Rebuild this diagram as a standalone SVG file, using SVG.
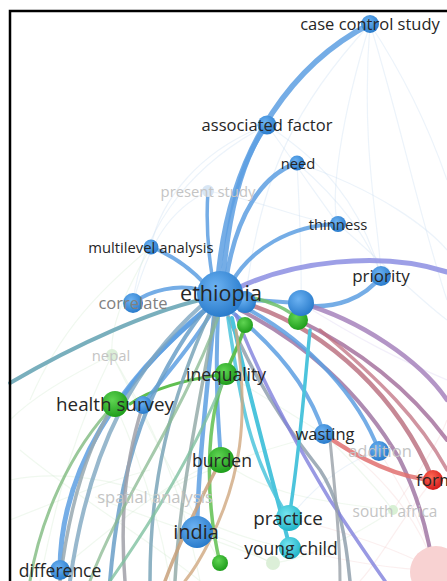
<svg xmlns="http://www.w3.org/2000/svg" width="447" height="581" viewBox="0 0 447 581">
<defs>
<radialGradient id="gb" cx="40%" cy="35%" r="65%"><stop offset="0" stop-color="#6cb2f2"/><stop offset="1" stop-color="#2a7ccc"/></radialGradient>
<radialGradient id="gg" cx="40%" cy="35%" r="65%"><stop offset="0" stop-color="#5fd452"/><stop offset="1" stop-color="#1f9e1c"/></radialGradient>
<radialGradient id="gc" cx="40%" cy="35%" r="65%"><stop offset="0" stop-color="#74e4f0"/><stop offset="1" stop-color="#22b4c8"/></radialGradient>
<radialGradient id="gr" cx="40%" cy="35%" r="65%"><stop offset="0" stop-color="#ff6a55"/><stop offset="1" stop-color="#d41c1c"/></radialGradient>
<style>
text{font-family:"Open Sans","Noto Sans","Liberation Sans",sans-serif;fill:#262626;text-anchor:middle}
.f{fill:#c4c4c4}
.m{fill:#808080}
.e{fill:none;stroke-linecap:round}
.bl{stroke:#5d9fe2;stroke-opacity:.85}
.bg{fill:none;stroke-width:1.2;stroke-opacity:.35}
</style>
</defs>
<rect width="447" height="581" fill="#fff"/>
<g id="background-links" class="bg">
<path d="M370,24 C400,120 420,220 447,300" stroke="#c9dcf2"/>
<path d="M370,24 C340,120 330,200 338,224" stroke="#c9dcf2"/>
<path d="M370,24 C360,150 380,230 381,276" stroke="#c9dcf2"/>
<path d="M370,24 C300,100 260,170 245,303" stroke="#c9dcf2"/>
<path d="M370,24 C420,100 440,160 447,180" stroke="#c9dcf2"/>
<path d="M267,125 C320,160 360,200 381,276" stroke="#c9dcf2"/>
<path d="M267,125 C200,150 160,200 151,247" stroke="#c9dcf2"/>
<path d="M267,125 C300,170 320,200 338,224" stroke="#c9dcf2"/>
<path d="M267,125 C180,170 140,240 133,303" stroke="#c9dcf2"/>
<path d="M297,163 C340,200 370,240 381,276" stroke="#c9dcf2"/>
<path d="M297,163 C380,190 430,230 447,250" stroke="#c9dcf2"/>
<path d="M297,163 C300,220 302,260 301,303" stroke="#c9dcf2"/>
<path d="M208,191 C170,210 150,240 133,303" stroke="#c9dcf2"/>
<path d="M208,191 C260,200 300,220 338,224" stroke="#c9dcf2"/>
<path d="M151,247 C100,290 60,330 30,400" stroke="#d5ecd0"/>
<path d="M151,247 C120,300 110,330 112,355" stroke="#d5ecd0"/>
<path d="M112,355 C80,420 60,480 40,581" stroke="#d5ecd0"/>
<path d="M112,355 C150,420 180,480 200,581" stroke="#d5ecd0"/>
<path d="M112,355 C130,390 160,450 220,563" stroke="#d5ecd0"/>
<path d="M112,355 C60,380 30,400 10,420" stroke="#d5ecd0"/>
<path d="M95,497 C150,520 220,540 273,563" stroke="#d5ecd0"/>
<path d="M20,450 C80,500 150,540 200,581" stroke="#d5ecd0"/>
<path d="M10,480 C60,470 120,480 155,497" stroke="#d5ecd0"/>
<path d="M155,497 C200,470 260,450 324,434" stroke="#d5ecd0"/>
<path d="M155,497 C200,520 240,540 290,548" stroke="#d5ecd0"/>
<path d="M393,510 C350,540 300,560 273,563" stroke="#d5ecd0"/>
<path d="M393,510 C370,480 350,460 324,434" stroke="#d5ecd0"/>
<path d="M393,510 C420,470 440,440 447,420" stroke="#f4d0d0"/>
<path d="M433,480 C400,520 380,560 360,581" stroke="#f4d0d0"/>
<path d="M379,451 C410,500 430,540 435,570" stroke="#f4d0d0"/>
<path d="M324,434 C380,470 420,520 435,570" stroke="#f4d0d0"/>
<path d="M289,518 C340,530 400,550 435,570" stroke="#f4d0d0"/>
<path d="M290,548 C340,560 390,570 435,570" stroke="#f4d0d0"/>
<path d="M301,303 C360,340 400,360 447,380" stroke="#d9d0f0"/>
<path d="M338,224 C380,260 420,300 447,320" stroke="#c9dcf2"/>
<path d="M60,570 C120,520 170,480 221,460" stroke="#d5ecd0"/>
<path d="M10,520 C60,500 110,480 150,470" stroke="#d5ecd0"/>
<path d="M115,404 C140,460 160,520 170,581" stroke="#d5ecd0"/>
<path d="M226,374 C270,400 300,420 324,434" stroke="#d5ecd0"/>
<path d="M221,460 C260,490 300,500 393,510" stroke="#d5ecd0"/>
<path d="M197,532 C240,540 260,560 273,563" stroke="#d5ecd0"/>
<path d="M289,518 C320,480 350,460 379,451" stroke="#c9dcf2"/>
</g>
<g id="links" class="e">
<path class="e bl" d="M370,24 C300,60 230,140 218,280" stroke-width="5.5"/>
<path class="e bl" d="M267,125 C240,160 228,220 223,280" stroke-width="5"/>
<path class="e bl" d="M297,163 C262,175 236,215 226,280" stroke-width="4.5"/>
<path class="e bl" d="M208,191 C206,220 208,250 212,275" stroke-width="3.5"/>
<path class="e bl" d="M338,224 C290,225 250,250 232,282" stroke-width="4"/>
<path class="e bl" d="M151,247 C172,255 190,268 205,284" stroke-width="4"/>
<path class="e bl" d="M133,303 C150,290 178,284 200,290" stroke-width="4"/>
<path class="e" d="M10,383 C80,342 150,312 200,300" stroke="#6aa6b6" stroke-width="4" stroke-opacity=".9"/>
<path class="e" d="M236,289 C290,262 380,250 447,272" stroke="#8c8ee2" stroke-width="5" stroke-opacity=".85"/>
<path class="e bl" d="M381,276 C365,298 335,310 301,305" stroke-width="4.5"/>
<path class="e bl" d="M240,300 C260,300 280,302 301,303" stroke-width="4"/>
<path class="e" d="M242,296 C270,300 290,310 298,320" stroke="#6cbf6a" stroke-width="3.5" stroke-opacity=".85"/>
<path class="e" d="M301,303 C360,320 420,360 447,400" stroke="#a07ab8" stroke-width="4.5" stroke-opacity=".8"/>
<path class="e" d="M298,320 C360,350 410,390 447,440" stroke="#a06a98" stroke-width="4" stroke-opacity=".8"/>
<path class="e" d="M240,310 C300,340 360,390 400,460 C420,500 430,540 435,581" stroke="#9a6e9e" stroke-width="4" stroke-opacity=".8"/>
<path class="e" d="M245,303 C330,330 400,400 433,480" stroke="#b86a7a" stroke-width="4.5" stroke-opacity=".8"/>
<path class="e bl" d="M240,305 C310,340 360,400 379,451" stroke-width="4"/>
<path class="e bl" d="M232,312 C280,350 310,390 324,434" stroke-width="4"/>
<path class="e" d="M324,434 C360,460 400,478 433,480" stroke="#e07070" stroke-width="4.5" stroke-opacity=".85"/>
<path class="e" d="M228,316 C250,370 280,420 320,470 C340,500 346,540 350,581" stroke="#8a9aa8" stroke-width="3.5" stroke-opacity=".8"/>
<path class="e" d="M236,315 C260,380 300,450 330,500 C350,530 370,560 385,581" stroke="#8080dc" stroke-width="3.5" stroke-opacity=".8"/>
<path class="e" d="M232,318 C245,380 270,470 290,548" stroke="#4cc4dc" stroke-width="4"/>
<path class="e" d="M228,318 C240,400 250,460 289,518" stroke="#4cc4dc" stroke-width="3.5" stroke-opacity=".85"/>
<path class="e" d="M310,330 C305,380 300,450 289,518" stroke="#4cc4dc" stroke-width="3.5"/>
<path class="e bl" d="M218,316 C215,380 218,420 221,460" stroke-width="4"/>
<path class="e bl" d="M214,317 C206,400 198,470 197,532" stroke-width="4.5"/>
<path class="e" d="M245,325 C240,345 230,360 226,374" stroke="#5fbf50" stroke-width="3.5"/>
<path class="e" d="M226,374 C205,420 205,500 220,563" stroke="#5fbf50" stroke-width="3.5" stroke-opacity=".85"/>
<path class="e" d="M226,374 C180,380 150,390 130,404" stroke="#5fbf50" stroke-width="3"/>
<path class="e bl" d="M210,306 C170,340 140,370 118,404" stroke-width="4.5"/>
<path class="e bl" d="M213,310 C190,350 160,380 143,405" stroke-width="4"/>
<path class="e bl" d="M205,310 C120,380 60,470 60,570" stroke-width="5"/>
<path class="e" d="M202,305 C140,360 90,440 70,581" stroke="#7ea6c0" stroke-width="4" stroke-opacity=".8"/>
<path class="e" d="M206,308 C150,380 120,460 110,581" stroke="#6a9fc8" stroke-width="4" stroke-opacity=".85"/>
<path class="e" d="M210,312 C170,400 150,480 150,581" stroke="#7aa4b8" stroke-width="3.5" stroke-opacity=".85"/>
<path class="e" d="M215,315 C200,400 180,490 175,581" stroke="#8fa6a4" stroke-width="3.5" stroke-opacity=".8"/>
<path class="e" d="M115,404 C90,440 70,500 60,581" stroke="#98a8b0" stroke-width="3.5" stroke-opacity=".85"/>
<path class="e" d="M115,404 C70,450 40,520 30,581" stroke="#7fba80" stroke-width="3" stroke-opacity=".8"/>
<path class="e" d="M143,405 C125,460 120,520 125,581" stroke="#a0a0a8" stroke-width="3.5" stroke-opacity=".85"/>
<path class="e" d="M221,460 C200,500 180,540 165,581" stroke="#c8a07a" stroke-width="3.5" stroke-opacity=".85"/>
<path class="e" d="M236,330 C250,420 240,480 210,540 C200,560 190,575 185,581" stroke="#d0a880" stroke-width="3" stroke-opacity=".8"/>
<path class="e" d="M226,374 C200,440 160,510 110,581" stroke="#80c0a0" stroke-width="3" stroke-opacity=".8"/>
<path class="e" d="M218,318 C180,420 120,500 90,581" stroke="#88b890" stroke-width="3" stroke-opacity=".75"/>
<path class="e" d="M330,440 C335,490 340,540 340,581" stroke="#98a0a8" stroke-width="3" stroke-opacity=".8"/>
<path class="e" d="M320,330 C380,380 420,420 447,470" stroke="#c07080" stroke-width="3.5" stroke-opacity=".75"/>
</g>
<g id="node-case-control-study"><circle cx="370" cy="24" r="9" fill="url(#gb)"/><text x="370" y="30" font-size="16.5">case control study</text></g>
<g id="node-associated-factor"><circle cx="267" cy="125" r="9.5" fill="url(#gb)"/><text x="267" y="131" font-size="16.5">associated factor</text></g>
<g id="node-need"><circle cx="297" cy="163" r="7.5" fill="url(#gb)"/><text x="298" y="169" font-size="14.8">need</text></g>
<g id="node-present-study"><circle cx="208" cy="191" r="6" fill="#d8e6f4"/><text class="f" x="208" y="197" font-size="14.8">present study</text></g>
<g id="node-thinness"><circle cx="338" cy="224" r="8" fill="url(#gb)"/><text x="338" y="230" font-size="14.8">thinness</text></g>
<g id="node-multilevel-analysis"><circle cx="151" cy="247" r="7.5" fill="url(#gb)"/><text x="151" y="253" font-size="14.8">multilevel analysis</text></g>
<g id="node-priority"><circle cx="381" cy="276" r="10" fill="url(#gb)"/><text x="381" y="282" font-size="17">priority</text></g>
<g id="node-correlate"><circle cx="133" cy="303" r="10" fill="url(#gb)"/><text class="m" x="133" y="309" font-size="16.5">correlate</text></g>
<g id="node-blue-a"><circle cx="245" cy="302" r="11" fill="url(#gb)"/></g>
<g id="node-ethiopia"><circle cx="220" cy="294" r="23" fill="url(#gb)"/><text x="221" y="301" font-size="21.5">ethiopia</text></g>
<g id="node-green-b"><circle cx="298" cy="320" r="10" fill="url(#gg)"/></g>
<g id="node-blue-b"><circle cx="301" cy="303" r="13" fill="url(#gb)"/></g>
<g id="node-green-a"><circle cx="245" cy="325" r="8" fill="url(#gg)"/></g>
<g id="node-nepal"><circle cx="112" cy="355" r="6" fill="#dcefd8"/><text class="f" x="111" y="361" font-size="14.8">nepal</text></g>
<g id="node-inequality"><circle cx="226" cy="374" r="11" fill="url(#gg)"/><text x="226" y="381" font-size="17.5">inequality</text></g>
<g id="node-health-survey"><circle cx="143" cy="405" r="9" fill="url(#gb)"/><circle cx="115" cy="404" r="13" fill="url(#gg)"/><text x="115" y="411" font-size="18.8">health survey</text></g>
<g id="node-wasting"><circle cx="324" cy="434" r="10" fill="url(#gb)"/><text x="325" y="440" font-size="16.5">wasting</text></g>
<g id="node-addition"><circle cx="379" cy="451" r="10" fill="url(#gb)"/><text class="f" x="380" y="457" font-size="16.5">addition</text></g>
<g id="node-form"><circle cx="433" cy="480" r="10" fill="url(#gr)"/><text x="416" y="486" font-size="17" style="text-anchor:start">form</text></g>
<g id="node-burden"><circle cx="221" cy="460" r="13" fill="url(#gg)"/><text x="222" y="467" font-size="17.5">burden</text></g>
<g id="node-spatial-analysis"><text class="f" x="155" y="503" font-size="16.5">spatial analysis</text></g>
<g id="node-south-africa"><circle cx="393" cy="510" r="5" fill="#d8f0d4"/><text class="f" x="395" y="517" font-size="15.4">south africa</text></g>
<g id="node-practice"><circle cx="289" cy="518" r="13" fill="url(#gc)"/><text x="288" y="525" font-size="18.8">practice</text></g>
<g id="node-india"><circle cx="197" cy="532" r="16" fill="url(#gb)"/><text x="196" y="539" font-size="20">india</text></g>
<g id="node-young-child"><circle cx="273" cy="563" r="7" fill="#dcefd8"/><circle cx="290" cy="548" r="11" fill="url(#gc)"/><text x="291" y="555" font-size="17.5">young child</text></g>
<g id="node-green-c"><circle cx="220" cy="563" r="8" fill="url(#gg)"/></g>
<g id="node-red-faint"><circle cx="436" cy="572" r="26" fill="#f8d2d2"/></g>
<g id="node-difference"><circle cx="60" cy="570" r="10" fill="url(#gb)"/><text x="60" y="577" font-size="17.5">difference</text></g>
<g id="frame"><path d="M10,581 V11 H447" fill="none" stroke="#000" stroke-width="2.5"/></g>
</svg>
